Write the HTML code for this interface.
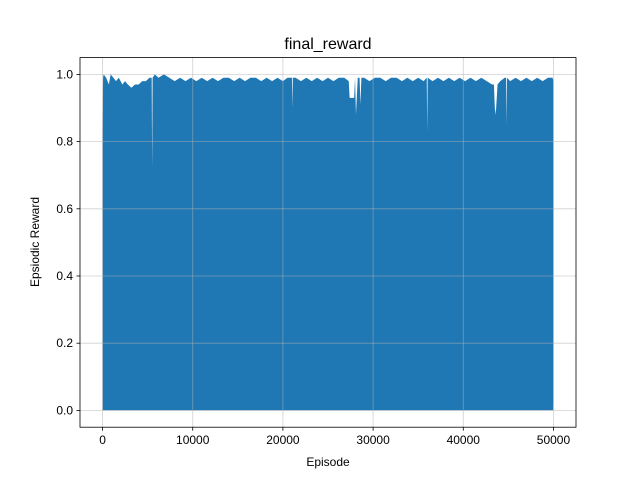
<!DOCTYPE html>
<html><head><meta charset="utf-8"><style>
body{margin:0;background:#fff}
svg{font-family:"Liberation Sans","DejaVu Sans",sans-serif}
</style></head><body>
<svg id="chart" width="640" height="480" xmlns="http://www.w3.org/2000/svg">
<rect width="640" height="480" fill="#fff"/>
<text x="328" y="49" font-size="16" text-anchor="middle">final_reward</text>
<g id="plot"></g>
<text x="328" y="466" font-size="12" text-anchor="middle">Episode</text>
<text x="0" y="0" font-size="12" text-anchor="middle" transform="translate(39,242) rotate(-90)">Epsiodic Reward</text>
</svg>
<script>
const episodes = [0,60,120,400,700,900,1200,1500,1800,2200,2500,2800,3200,3600,4000,4400,4800,5200,5450,5500,5550,5800,6200,6800,7400,8000,8600,9200,9800,10400,11000,11600,12200,12800,13400,14000,14600,15200,15800,16400,17000,17600,18200,18800,19400,20000,20500,21000,21050,21100,21400,22000,22600,23200,23800,24400,25000,25600,26200,26800,27300,27400,27600,27900,28000,28100,28300,28500,28600,28700,29000,29600,30200,30800,31400,32000,32600,33200,33800,34400,35000,35600,35950,36000,36050,36600,37200,37800,38400,39000,39600,40200,40800,41400,42000,42600,43200,43400,43500,43600,43800,44100,44600,44750,44800,44850,45200,45800,46400,47000,47600,48200,48800,49400,49900,50000];
const upper = [0.82,0.99,1.0,0.99,0.97,1.0,0.99,0.98,0.99,0.97,0.98,0.97,0.96,0.97,0.97,0.98,0.98,0.99,0.99,0.72,0.99,1.0,0.99,1.0,0.99,0.98,0.99,0.98,0.99,0.98,0.99,0.98,0.99,0.98,0.99,0.99,0.98,0.99,0.98,0.99,0.99,0.98,0.99,0.98,0.99,0.98,0.99,0.99,0.9,0.99,0.99,0.98,0.99,0.98,0.99,0.98,0.99,0.98,0.99,0.99,0.98,0.93,0.93,0.93,0.99,0.88,0.99,0.99,0.91,0.99,0.99,0.98,0.99,0.99,0.98,0.99,0.99,0.98,0.99,0.98,0.99,0.98,0.99,0.83,0.99,0.98,0.99,0.98,0.99,0.98,0.99,0.98,0.99,0.98,0.99,0.98,0.97,0.97,0.9,0.88,0.97,0.98,0.99,0.99,0.85,0.99,0.98,0.99,0.98,0.99,0.98,0.99,0.98,0.99,0.99,0.98];
const lowEp = [50000,50000,49980,40000,30000,20000,10000,0];
const lower = [0.45,0.02,0.0,0.0,0.0,0.0,0.0,0.0];
const xTicks = [0,10000,20000,30000,40000,50000];
const yTicks = [0.0,0.2,0.4,0.6,0.8,1.0];
const L=80,R=576,T=57.6,B=427.2;
const xs=v=>L+(v+2500)/55000*(R-L);
const ys=v=>B-(v+0.05)/1.1*(B-T);
const ns="http://www.w3.org/2000/svg";
const g=document.getElementById('plot');
function mk(t,a){const e=document.createElementNS(ns,t);for(const k in a)e.setAttribute(k,a[k]);g.appendChild(e);return e;}
let pts=episodes.map((e,i)=>xs(e).toFixed(2)+','+ys(upper[i]).toFixed(1));
lowEp.forEach((e,i)=>pts.push(xs(e).toFixed(2)+','+ys(lower[i]).toFixed(1)));
const area=mk('polygon',{points:pts.join(' '),fill:'#1f77b4',stroke:'none'});


xTicks.forEach(v=>{const x=xs(v);
 const gl=mk('line',{x1:x,x2:x,y1:T,y2:B,stroke:'#b0b0b0','stroke-width':0.8,'stroke-opacity':0.6});
 
 mk('line',{x1:x,x2:x,y1:B,y2:B+3.5,stroke:'#000','stroke-width':0.8});
 const t=mk('text',{x:x,y:B+17,'font-size':12,'text-anchor':'middle'});t.textContent=v;
 });
yTicks.forEach(v=>{const y=ys(v);
 const gl=mk('line',{x1:L,x2:R,y1:y,y2:y,stroke:'#b0b0b0','stroke-width':0.8,'stroke-opacity':0.6});
 
 mk('line',{x1:L-3.5,x2:L,y1:y,y2:y,stroke:'#000','stroke-width':0.8});
 const t=mk('text',{x:L-7,y:y+4,'font-size':12,'text-anchor':'end'});t.textContent=v.toFixed(1);
 });
const fr=mk('rect',{x:L,y:T,width:R-L,height:B-T,fill:'none',stroke:'#000','stroke-width':0.8});

</script>
</body></html>
